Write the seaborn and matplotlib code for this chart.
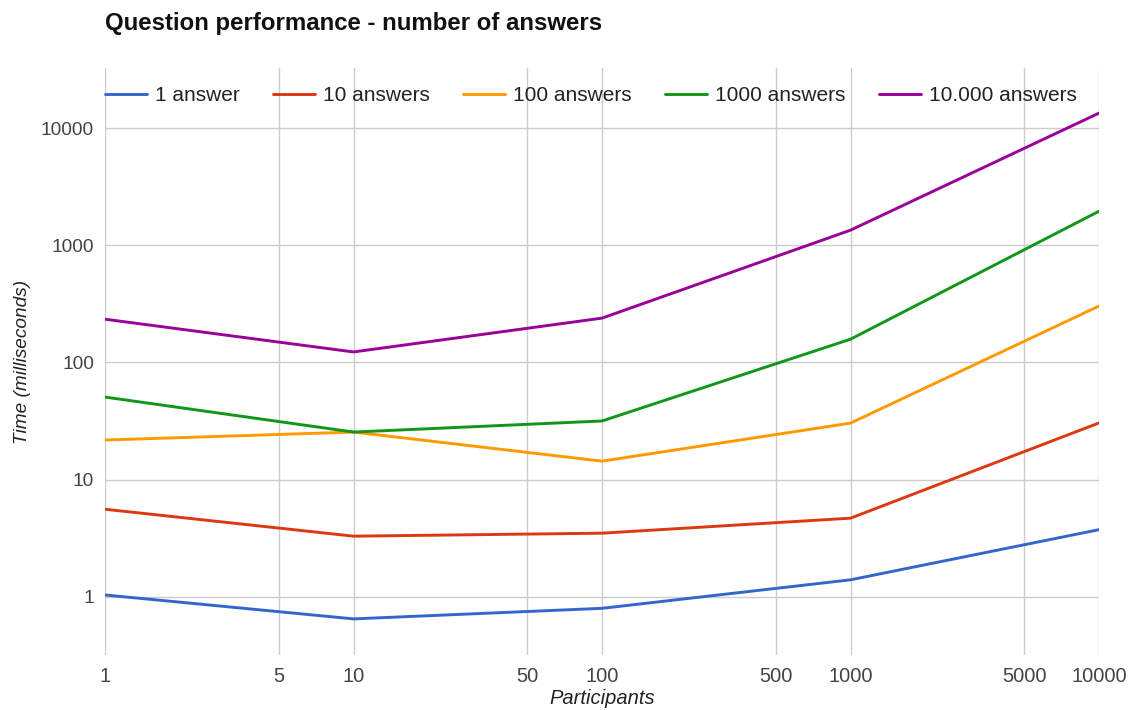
import seaborn as sns
import matplotlib.pyplot as plt
import pandas as pd
from matplotlib.ticker import FixedLocator, FixedFormatter, NullLocator

# data
participants = [1, 10, 100, 1000, 10000]
series_names = ['1 answer', '10 answers', '100 answers', '1000 answers', '10.000 answers']
t_1 = [1.04, 0.65, 0.80, 1.40, 3.75]
t_10 = [5.6, 3.3, 3.5, 4.7, 30.5]
t_100 = [21.8, 25.5, 14.4, 30.4, 303]
t_1000 = [50.7, 25.5, 31.7, 158, 1950]
t_10000 = [234, 123, 239, 1345, 13400]
colors = ['#3366cc', '#dc3912', '#ff9900', '#109618', '#990099']

x_ticks = [1, 5, 10, 50, 100, 500, 1000, 5000, 10000]
y_ticks = [1, 10, 100, 1000, 10000]

rows = []
for name, vals in zip(series_names, [t_1, t_10, t_100, t_1000, t_10000]):
    for p, v in zip(participants, vals):
        rows.append({'Participants': p, 'Time': v, 'series': name})
df = pd.DataFrame(rows)

sns.set_style('whitegrid')
plt.rcParams['font.family'] = ['Liberation Sans', 'DejaVu Sans']

fig = plt.figure(figsize=(11.33, 7.10), dpi=100)
ax = fig.add_axes([0.0927, 0.0775, 0.8773, 0.8265])

sns.lineplot(data=df, x='Participants', y='Time', hue='series',
             hue_order=series_names, palette=colors, linewidth=2.1, ax=ax)

ax.set_xscale('log')
ax.set_yscale('log')
ax.set_xlim(1, 10000)
ax.set_ylim(0.32, 32400)

ax.xaxis.set_major_locator(FixedLocator(x_ticks))
ax.xaxis.set_major_formatter(FixedFormatter([str(v) for v in x_ticks]))
ax.xaxis.set_minor_locator(NullLocator())
ax.yaxis.set_major_locator(FixedLocator(y_ticks))
ax.yaxis.set_major_formatter(FixedFormatter([str(v) for v in y_ticks]))
ax.yaxis.set_minor_locator(NullLocator())

ax.grid(True, color='#cccccc', linewidth=1)
for s in ax.spines.values():
    s.set_visible(False)
ax.tick_params(axis='both', length=0, labelcolor='#444444')
ax.tick_params(axis='x', pad=9, labelsize=14.5)
ax.tick_params(axis='y', pad=8, labelsize=13.8)

ax.set_xlabel('Participants', fontsize=14.5, style='italic', color='#222222', labelpad=2)
ax.set_ylabel('Time (milliseconds)', fontsize=13.7, style='italic', color='#222222', labelpad=7)

fig.text(0.0927, 0.967, 'Question performance - number of answers', fontsize=17.3,
         fontweight='bold', color='#111111', va='center', ha='left')

handles, labels = ax.get_legend_handles_labels()
ax.legend(handles, labels, loc='center left', bbox_to_anchor=(0.0, 0.953), ncol=5,
          frameon=False, fontsize=15, handlelength=2.0, handletextpad=0.4,
          columnspacing=1.6, labelcolor='#222222', borderaxespad=0, borderpad=0)

fig.savefig('out.png', dpi=100, facecolor='white')
